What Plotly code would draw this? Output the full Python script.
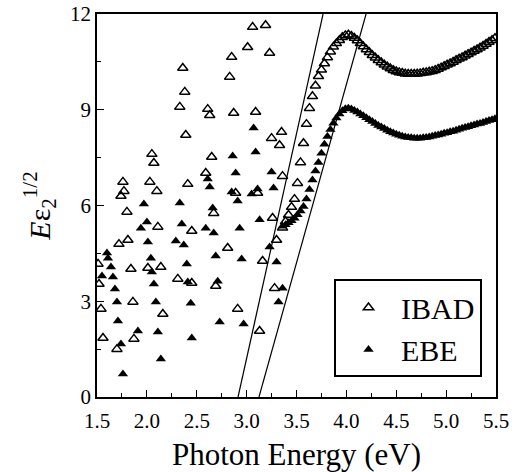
import plotly.graph_objects as go

# ---------------- data ----------------
# IBAD: scattered low-energy points
ibad_scatter_x = [3.06, 3.19, 3.01, 2.85, 3.23, 2.36, 2.83, 2.38, 2.33, 2.61, 2.63, 2.87, 3.09,
                  2.39, 3.25, 3.35, 3.33, 2.05, 2.07, 2.65, 1.76, 1.77, 1.74, 2.03, 2.10, 2.59,
                  2.41, 3.36, 2.89, 3.11, 1.80, 2.11, 1.72, 1.81, 1.51, 1.84, 2.01, 2.14, 1.52,
                  1.86, 1.54, 2.16, 1.56, 1.87, 1.70, 2.31, 2.45, 2.67, 3.26, 2.45, 2.81, 3.16,
                  3.30, 2.69, 2.91, 3.28, 3.13]
ibad_scatter_y = [11.59, 11.65, 10.96, 10.65, 10.78, 10.31, 10.03, 9.56, 9.09, 9.02, 8.83, 8.90, 8.93,
                  8.21, 8.11, 8.30, 7.89, 7.61, 7.33, 7.52, 6.74, 6.45, 6.30, 6.74, 6.45, 7.02,
                  6.67, 6.92, 6.39, 6.39, 5.80, 5.33, 4.79, 4.92, 4.17, 4.01, 4.04, 4.07, 3.54,
                  2.98, 2.76, 2.60, 1.85, 1.82, 1.50, 3.70, 3.57, 5.76, 5.61, 5.20, 4.67, 4.26,
                  4.92, 3.48, 2.76, 3.41, 2.07]

# IBAD: dense spectrum above the gap
ibad_curve_x = [3.36, 3.39, 3.42, 3.45, 3.48, 3.51, 3.54, 3.57, 3.60, 3.63, 3.66, 3.69, 3.72, 3.75,
                3.78, 3.81, 3.84, 3.87, 3.90, 3.93, 3.96, 3.99, 4.02, 4.05, 4.08, 4.11, 4.14, 4.17,
                4.20, 4.23, 4.26, 4.29, 4.32, 4.35, 4.38, 4.41, 4.44, 4.47, 4.50, 4.53, 4.56, 4.59,
                4.62, 4.65, 4.68, 4.71, 4.74, 4.77, 4.80, 4.83, 4.86, 4.89, 4.92, 4.95, 4.98, 5.01,
                5.04, 5.07, 5.10, 5.13, 5.16, 5.19, 5.22, 5.25, 5.28, 5.31, 5.34, 5.37, 5.40, 5.43,
                5.46, 5.49]
ibad_curve_y = [5.30, 5.50, 5.70, 5.95, 6.20, 6.70, 7.35, 7.95, 8.55, 9.05, 9.42, 9.75, 10.05, 10.25,
                10.45, 10.64, 10.82, 10.97, 11.08, 11.18, 11.27, 11.33, 11.35, 11.31, 11.25, 11.17,
                11.08, 10.98, 10.89, 10.80, 10.71, 10.63, 10.55, 10.48, 10.41, 10.35, 10.29, 10.24,
                10.20, 10.17, 10.15, 10.13, 10.12, 10.12, 10.12, 10.13, 10.14, 10.16, 10.17, 10.19,
                10.21, 10.24, 10.28, 10.32, 10.36, 10.41, 10.45, 10.50, 10.55, 10.60, 10.64, 10.69,
                10.74, 10.79, 10.84, 10.89, 10.94, 11.00, 11.06, 11.12, 11.18, 11.24]

# EBE: scattered low-energy points
ebe_scatter_x = [3.07, 2.86, 3.09, 2.89, 3.25, 3.27, 2.61, 2.63, 2.85, 2.91, 3.05, 3.11, 2.66, 1.97,
                 2.33, 2.00, 1.94, 2.01, 2.35, 2.29, 2.37, 1.60, 1.61, 1.64, 2.04, 2.05, 2.40, 1.55,
                 1.66, 1.68, 2.07, 2.41, 1.70, 2.09, 2.44, 1.71, 1.91, 2.11, 2.45, 1.74, 2.14, 1.76,
                 2.59, 2.67, 2.93, 3.13, 2.69, 2.95, 3.23, 3.30, 2.71, 3.36, 3.32, 2.73, 2.97]
ebe_scatter_y = [8.43, 7.55, 7.68, 7.02, 7.05, 6.55, 6.83, 6.58, 6.42, 6.14, 6.36, 6.52, 5.92, 6.05,
                 6.08, 5.48, 5.29, 4.86, 5.42, 4.89, 4.76, 4.51, 4.35, 4.07, 4.35, 3.92, 4.17, 3.79,
                 3.76, 3.38, 3.54, 3.60, 2.98, 2.98, 2.94, 2.38, 2.07, 2.04, 1.85, 1.66, 1.19, 0.72,
                 5.29, 5.14, 5.29, 5.55, 4.42, 4.32, 4.70, 4.23, 3.63, 3.41, 2.98, 2.35, 2.29]

# EBE: dense spectrum above the gap
ebe_curve_x = ibad_curve_x
ebe_curve_y = [5.35, 5.40, 5.46, 5.52, 5.60, 5.71, 5.83, 5.97, 6.20, 6.50, 6.80, 7.08, 7.35, 7.64,
               7.92, 8.16, 8.38, 8.58, 8.74, 8.87, 8.97, 9.03, 9.05, 9.02, 8.98, 8.93, 8.87, 8.81,
               8.75, 8.69, 8.63, 8.57, 8.51, 8.46, 8.41, 8.36, 8.31, 8.27, 8.23, 8.20, 8.17, 8.15,
               8.13, 8.12, 8.11, 8.11, 8.11, 8.12, 8.13, 8.15, 8.17, 8.19, 8.21, 8.23, 8.26, 8.28,
               8.31, 8.33, 8.36, 8.39, 8.42, 8.44, 8.47, 8.50, 8.52, 8.55, 8.57, 8.60, 8.63, 8.66,
               8.69, 8.72]

# Linear (Tauc-type) fits: x-intercept (eV) and slope (per eV)
fit_intercepts = [2.914, 3.124]
fit_slopes = [14.08, 11.18]

x_ticks = [1.5, 2.0, 2.5, 3.0, 3.5, 4.0, 4.5, 5.0, 5.5]
y_ticks = [0, 3, 6, 9, 12]

# ---------------- figure ----------------
FONT = "Liberation Serif, Times New Roman, serif"
fig = go.Figure()

for b, m in zip(fit_intercepts, fit_slopes):
    xs = [b, b + 12.0 / m]
    fig.add_trace(go.Scatter(x=xs, y=[(x - b) * m for x in xs], mode="lines",
                             line=dict(color="black", width=1.2), showlegend=False,
                             hoverinfo="skip"))

fig.add_trace(go.Scatter(x=ibad_scatter_x + ibad_curve_x, y=ibad_scatter_y + ibad_curve_y,
                         mode="markers", name="IBAD",
                         marker=dict(symbol="triangle-up-open", size=9, color="black",
                                     line=dict(width=1.5, color="black"))))
fig.add_trace(go.Scatter(x=ebe_scatter_x + ebe_curve_x, y=ebe_scatter_y + ebe_curve_y,
                         mode="markers", name="EBE",
                         marker=dict(symbol="triangle-up", size=9, color="black")))

axis_common = dict(showline=True, linecolor="black", linewidth=1.5, mirror=True,
                   ticks="inside", tickcolor="black", tickwidth=1.2, ticklen=7,
                   showgrid=False, zeroline=False)

fig.update_xaxes(range=[1.5, 5.5], tickvals=x_ticks, ticktext=[f"{v:.1f}" for v in x_ticks],
                 tickfont=dict(family=FONT, size=21, color="black"), ticklabelstandoff=4,
                 minor=dict(dtick=0.25, tick0=1.5, ticks="inside", ticklen=4, tickcolor="black"),
                 title=dict(text="Photon Energy (eV)", font=dict(family=FONT, size=31, color="black"),
                            standoff=14),
                 **axis_common)
fig.update_yaxes(range=[0, 12], tickvals=y_ticks, ticktext=[str(v) for v in y_ticks],
                 tickfont=dict(family=FONT, size=21, color="black"),
                 minor=dict(dtick=1.5, tick0=0, ticks="inside", ticklen=4, tickcolor="black"),
                 title=dict(text="<i>E</i>ε<sub>2</sub><sup>1/2</sup>",
                            font=dict(family=FONT, size=30, color="black"), standoff=11),
                 **axis_common)

fig.update_layout(
    width=519, height=472,
    margin=dict(l=97, r=23, t=14, b=75, autoexpand=False),
    paper_bgcolor="white", plot_bgcolor="white",
    legend=dict(x=0.594, y=0.179, xanchor="left", yanchor="middle",
                bordercolor="black", borderwidth=2, bgcolor="white",
                font=dict(family=FONT, size=30, color="black"),
                itemwidth=55, tracegroupgap=0),
)

fig.write_html("out.html")
